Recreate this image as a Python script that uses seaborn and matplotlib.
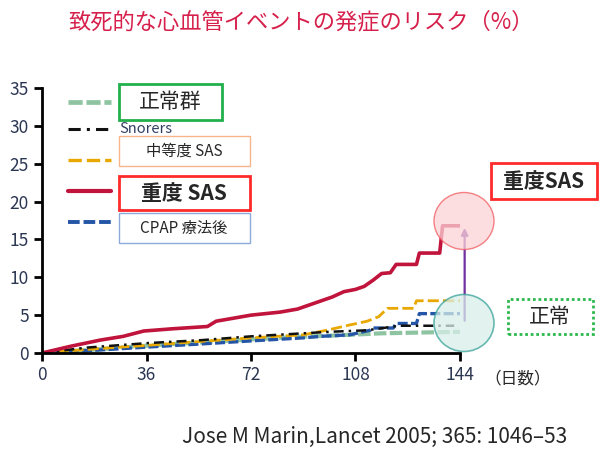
import matplotlib
matplotlib.use('Agg')
import matplotlib.pyplot as plt
from matplotlib.patches import Rectangle, Ellipse
from matplotlib.lines import Line2D
import seaborn as sns

title = '致死的な心血管イベントの発症のリスク（%）'
citation = 'Jose M Marin,Lancet 2005; 365: 1046–53'
x_ticks = [0, 36, 72, 108, 144]
y_ticks = [0, 5, 10, 15, 20, 25, 30, 35]

# (days, %)
normal_x = [0, 20, 37, 55, 72, 89, 100, 117, 130, 144]
normal_y = [0, 0.5, 1.0, 1.4, 1.8, 2.15, 2.3, 2.6, 2.7, 2.8]
snorers_x = [0, 15, 36, 55, 72, 99, 112, 123, 142]
snorers_y = [0, 0.7, 1.3, 1.7, 2.2, 2.8, 3.0, 3.6, 3.6]
moderate_x = [0, 10, 20, 36, 50, 72, 90, 98, 106, 112, 116, 119, 128, 129, 144]
moderate_y = [0, 0.3, 0.6, 1.0, 1.4, 2.0, 2.4, 3.0, 3.7, 4.2, 4.8, 5.9, 5.9, 6.9, 6.9]
cpap_x = [0, 20, 37, 55, 72, 90, 96, 106, 113, 114, 121, 122, 129, 130, 144]
cpap_y = [0, 0.4, 0.8, 1.2, 1.6, 2.0, 2.2, 2.4, 3.0, 3.3, 3.3, 3.9, 3.9, 5.2, 5.2]
severe_x = [0, 10, 20, 28, 35, 45, 57, 60, 72, 82, 88, 94, 100, 104, 108, 111,
            114, 117, 120, 122, 129, 130, 137, 138, 144]
severe_y = [0, 0.9, 1.7, 2.2, 2.9, 3.2, 3.5, 4.2, 5.0, 5.4, 5.8, 6.6, 7.4, 8.1,
            8.4, 8.8, 9.6, 10.5, 10.6, 11.7, 11.7, 13.2, 13.2, 16.8, 16.8]

labels = ['正常群', 'Snorers', '中等度 SAS', '重度 SAS', 'CPAP 療法後']
colors = ['#8fc4a2', '#111111', '#e8a800', '#c0143c', '#2455a6']
styles = [(0, (3, 0.8)), (0, (4, 2, 1, 2)), (0, (4, 1.5)), '-', (0, (3, 1))]
widths = [3.0, 1.8, 2.0, 2.6, 2.4]

sns.set_style('ticks')
plt.rcParams['font.family'] = ['Noto Sans CJK JP', 'DejaVu Sans']

W, H = 600, 463
fig = plt.figure(figsize=(6, 4.63), dpi=100)
ax = fig.add_axes([42 / W, 1 - 353 / H, 418 / W, 265 / H])

series = [(normal_x, normal_y), (snorers_x, snorers_y), (moderate_x, moderate_y),
          (severe_x, severe_y), (cpap_x, cpap_y)]
for i in [0, 4, 2, 1, 3]:
    sx, sy = series[i]
    sns.lineplot(x=sx, y=sy, color=colors[i], linestyle=styles[i], lw=widths[i],
                 estimator=None, sort=False, ax=ax)

ax.set_xlim(0, 144)
ax.set_ylim(0, 35)
ax.set_xticks(x_ticks)
ax.set_yticks(y_ticks)
ax.tick_params(length=6, width=2, color='black', labelsize=12.5, labelcolor='#2b3652')
for s in ['top', 'right']:
    ax.spines[s].set_visible(False)
for s in ['left', 'bottom']:
    ax.spines[s].set_linewidth(2)
    ax.spines[s].set_color('black')
ax.set_facecolor('white')


def fx(x):
    return x / W


def fy(y):
    return 1 - y / H


def box(x0, y0, x1, y1, ec, lw=1.5, ls='-'):
    fig.add_artist(Rectangle((fx(x0), fy(y1)), (x1 - x0) / W, (y1 - y0) / H,
                             transform=fig.transFigure, facecolor='white',
                             edgecolor=ec, lw=lw, ls=ls))


# legend
key_y = [102, 129, 160, 191, 222]
for i, ky in enumerate(key_y):
    fig.add_artist(Line2D([fx(68), fx(111)], [fy(ky), fy(ky)], transform=fig.transFigure,
                          color=colors[i], linestyle=styles[i], lw=widths[i] + 0.4))

box(119, 84, 222, 120, '#22b04c', lw=2)
fig.text(fx(170), fy(102), labels[0], fontsize=15, ha='center', va='center')
fig.text(fx(119), fy(129), labels[1], fontsize=10.5, ha='left', va='center', color='#2e3f63')
box(119, 136, 250, 166, '#f6b48a', lw=1)
fig.text(fx(184), fy(151), labels[2], fontsize=11, ha='center', va='center')
box(119, 176, 250, 210, '#ff2a2a', lw=2)
fig.text(fx(184), fy(193), labels[3], fontsize=15, ha='center', va='center', weight='bold')
box(119, 213, 250, 243, '#8eaadb', lw=1)
fig.text(fx(184), fy(228), labels[4], fontsize=11, ha='center', va='center')

# highlight circles and arrow
fig.add_artist(Ellipse((fx(464), fy(221)), 60 / W, 57 / H, transform=fig.transFigure,
                       facecolor='#fbd3d6', edgecolor='#f05a5f', lw=1, alpha=0.75))
fig.add_artist(Ellipse((fx(464), fy(323)), 60 / W, 57 / H, transform=fig.transFigure,
                       facecolor='#d8eeea', edgecolor='#3aa39a', lw=1.2, alpha=0.75))
ax.annotate('', xy=(145.6, 16.9), xytext=(145.6, 3.9), annotation_clip=False,
            arrowprops=dict(arrowstyle='-|>', color='#7030a0', lw=1.6, mutation_scale=10))

box(491, 163, 597, 199, '#ff2a2a', lw=2)
fig.text(fx(544), fy(181), '重度SAS', fontsize=15, ha='center', va='center', weight='bold')
box(508, 299, 593, 334, '#2db84d', lw=2, ls=(0, (1, 1)))
fig.text(fx(550), fy(317), '正常', fontsize=15, ha='center', va='center')

fig.text(fx(518), fy(379), '（日数）', fontsize=12, ha='center', va='center')
fig.text(fx(301), fy(22), title, fontsize=16, ha='center', va='center', color='#d6204b')
fig.text(fx(375), fy(437), citation, fontsize=15, ha='center', va='center')

fig.savefig('out.png', dpi=100)
